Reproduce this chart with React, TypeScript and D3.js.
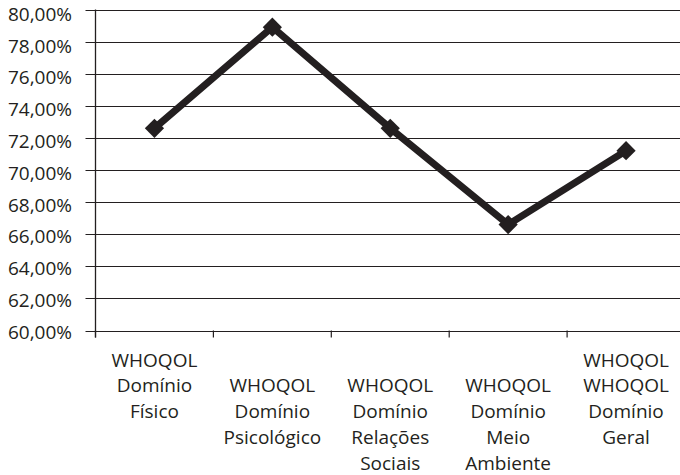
import React from "react";
import * as d3 from "d3";

const categories: string[][] = [
  ["WHOQOL", "Domínio", "Físico"],
  ["WHOQOL", "Domínio", "Psicológico"],
  ["WHOQOL", "Domínio", "Relações", "Sociais"],
  ["WHOQOL", "Domínio", "Meio", "Ambiente"],
  ["WHOQOL", "WHOQOL", "Domínio", "Geral"],
];
const labelStartRow: number[] = [0, 1, 1, 1, 0];
const values: number[] = [72.6, 78.9, 72.6, 66.6, 71.2];
const yTicks: number[] = [60, 62, 64, 66, 68, 70, 72, 74, 76, 78, 80];

const W = 680;
const H = 475;
const left = 95.5;
const right = 685;
const top = 9.5;
const bottom = 330.5;
const ink = "#231f20";
const font = "'Open Sans', sans-serif";

export default function App() {
  const x = d3.scaleBand<number>().domain(d3.range(values.length)).range([left, right]);
  const y = d3.scaleLinear().domain([60, 80]).range([bottom, top]);
  // label positions drift slightly from gridlines in the reference
  const yLabel = d3.scaleLinear().domain([60, 80]).range([bottom + 1.5, top + 4.5]);
  const line = d3
    .line<number>()
    .x((_, i) => x(i)! + x.bandwidth() / 2)
    .y((d) => y(d));
  const marker = d3.symbol().type(d3.symbolSquare).size(185)();
  const fmt = (v: number) => v.toFixed(2).replace(".", ",") + "%";
  const rowBase = 366.5;
  const rowStep = 25.8;

  return (
    <svg width={W} height={H} style={{ position: "absolute", left: 0, top: 0, background: "#fff" }}>
      <rect width={W} height={H} fill="#fff" />
      {yTicks.map((t) => (
        <g key={t}>
          <line x1={left - 10} x2={right} y1={Math.round(y(t)) + 0.5} y2={Math.round(y(t)) + 0.5} stroke={ink} strokeWidth={1} />
          <text
            x={72}
            y={yLabel(t)}
            dy="0.36em"
            textAnchor="end"
            fontFamily={font}
            fontSize={19}
            fill={ink}
          >
            {fmt(t)}
          </text>
        </g>
      ))}
      <line x1={left} x2={left} y1={top} y2={bottom + 7} stroke={ink} strokeWidth={1.3} />
      {d3.range(values.length + 1).map((i) => {
        const xx = i < values.length ? x(i)! : right;
        return <line key={i} x1={xx} x2={xx} y1={bottom} y2={bottom + 7} stroke={ink} strokeWidth={1.2} />;
      })}
      {categories.map((lines, i) => (
        <text key={i} textAnchor="middle" fontFamily={font} fontSize={19} fill={ink}>
          {lines.map((l, j) => (
            <tspan key={j} x={x(i)! + x.bandwidth() / 2} y={rowBase + (labelStartRow[i] + j) * rowStep}>
              {l}
            </tspan>
          ))}
        </text>
      ))}
      <path d={line(values) || ""} fill="none" stroke={ink} strokeWidth={7} strokeLinejoin="miter" />
      {values.map((v, i) => (
        <path
          key={i}
          d={marker || ""}
          transform={`translate(${x(i)! + x.bandwidth() / 2},${y(v)}) rotate(45)`}
          fill={ink}
        />
      ))}
    </svg>
  );
}
